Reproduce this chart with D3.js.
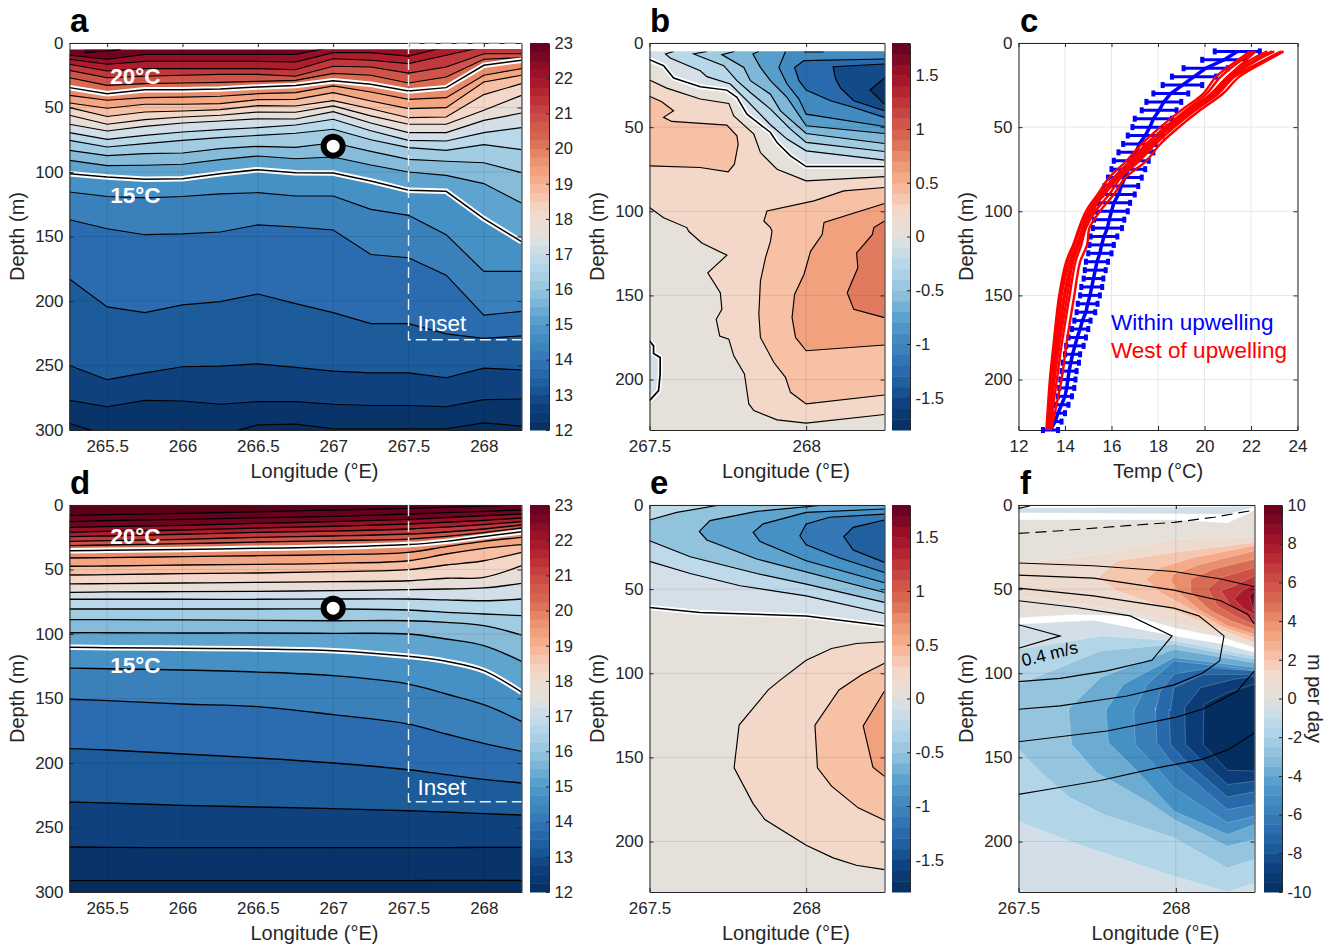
<!DOCTYPE html>
<html>
<head>
<meta charset="utf-8">
<script src="https://cdn.jsdelivr.net/npm/d3@7"></script>
<style>
  html, body { margin: 0; padding: 0; background: #fff; }
  text { font-family: "Liberation Sans", Arial, sans-serif; fill: #262626; }
</style>
</head>
<body>
<div id="svg-container"></div>
<script>
// shared colormap, position 0..1 along each colorbar
const cmap_pos = [0, .07, .114, .16, .205, .25, .295, .34, .386, .43, .477, .5, .523, .568, .614, .66, .705, .75, .795, .84, .886, .93, .977, 1];
const cmap_col = ["#052e60", "#0f4280", "#1c5c9a", "#2b6cb0", "#3a80ba", "#4590c4", "#5fa3cf", "#85bbd9", "#a2cce2", "#b8d8ea", "#d3dfe8", "#e5e0da", "#e7dfd7", "#f3d8c9", "#f7bfa3", "#f4a582", "#e88c6c", "#d96b52", "#cf5449", "#c23a3d", "#af1d2d", "#960f27", "#700320", "#67001f"];

// panel a: isotherm depth (m) along longitude
const lon_a = [265.25, 265.5, 265.75, 266, 266.25, 266.5, 266.75, 267, 267.25, 267.5, 267.75, 268, 268.25];
const levels_a = [22.5, 22, 21.5, 21, 20.5, 20, 19.5, 19, 18.5, 18, 17.5, 17, 16.5, 16, 15.5, 15, 14.5, 14, 13.5, 13, 12.5, 12];
const a_225 = [9.5, 12.6, 8.8, 8.8, 8.8, 8.8, 8.8, 3, 3, 3, 0.5, -1, -1];
const a_220 = [12.6, 16.5, 14.2, 14.2, 14.2, 14.2, 14.7, 7.5, 7.5, 10.3, 3, -1, -1];
const a_215 = [16.5, 21.7, 19.9, 19.9, 19.9, 19.9, 20.7, 12.2, 13.4, 16, 9.5, 3, 1.5];
const a_210 = [21.2, 26.9, 25.8, 25, 24.3, 24.3, 25.8, 18, 18.6, 23.3, 18.6, 8.3, 8.3];
const a_205 = [26.9, 32.8, 31.5, 31, 30.5, 29.7, 29, 23.5, 25, 31, 26.4, 12.6, 11.4];
const a_200 = [34.6, 39.3, 36.2, 36.2, 35.7, 34.1, 33, 29.2, 32, 37.2, 34.6, 17.3, 13.4];
const a_195 = [40.6, 44.4, 42.4, 41.9, 41.3, 39.3, 38.5, 33.3, 38, 43.7, 42.4, 25, 19.9];
const a_190 = [46.5, 50.6, 47.5, 47.5, 47, 43.9, 43.7, 38.5, 45, 50.9, 50.1, 30.2, 25];
const a_185 = [50.1, 57, 53.5, 52.7, 51.7, 48.6, 48.8, 44.7, 51, 57.9, 57.4, 40, 31.5];
const a_180 = [56, 63, 59.4, 57.4, 56, 53.5, 53.7, 48.8, 56.5, 63, 63, 52.2, 40.6];
const a_175 = [63, 68.2, 64.6, 62, 60.5, 58.7, 58.9, 53.2, 62, 69.5, 69.5, 60, 54.3];
const a_170 = [69.5, 74.7, 71.6, 69, 67.2, 65.6, 63.6, 59.1, 68, 75.5, 76, 69.5, 65.6];
const a_165 = [75.5, 80.6, 78, 75.5, 73.4, 71.6, 70, 66.9, 75, 81.1, 83.2, 78.8, 82.7];
const a_160 = [83.2, 87.3, 85.8, 85.3, 81.9, 80.1, 80.9, 77.3, 84, 90.2, 91.7, 92.8, 100.5];
const a_155 = [91, 95, 94.8, 94, 90.4, 87.6, 89.7, 88.4, 94.6, 100, 102.6, 109, 124];
const a_150 = [101.3, 103.9, 105.7, 105.2, 101.3, 98.2, 100.5, 100.8, 107, 114.2, 115, 136.2, 154];
const a_145 = [115.5, 119, 120, 119, 117, 116, 118.6, 118.6, 129, 133.6, 148.6, 177, 177];
const a_140 = [137, 144, 148.6, 148, 146.5, 141, 142.6, 145, 164, 166.5, 180, 211, 208];
const a_135 = [183, 204.6, 209, 203, 200.5, 194.6, 202, 209, 217.5, 217.5, 225.5, 229, 227];
const a_130 = [250, 261, 255.7, 251, 250.5, 248.7, 251.5, 254.4, 255.7, 255.7, 259.5, 252, 253.4];
const a_125 = [277, 282, 277, 277.5, 280, 278, 278, 280, 281, 281, 282, 276.5, 276];
const a_120 = [295, 304, 306, 306, 304, 296, 295.5, 299, 299, 299, 299, 294.5, 297];
const rows_a = [a_225, a_220, a_215, a_210, a_205, a_200, a_195, a_190, a_185, a_180, a_175, a_170, a_165, a_160, a_155, a_150, a_145, a_140, a_135, a_130, a_125, a_120];
const a_patch = [[265.35, 7.5], [265.5, 6.2], [265.59, 5], [265.35, 5]];

// panel d: same isotherms from the model
const lon_d = [265.25, 265.5, 266, 266.5, 267, 267.5, 267.75, 268, 268.25];
const levels_d = [23.5, 23, 22.5, 22, 21.5, 21, 20.5, 20, 19.5, 19, 18.5, 18, 17.5, 17, 16.5, 16, 15.5, 15, 14.5, 14, 13.5, 13, 12.5, 12];
const d_235 = [8, 7.5, 6.5, 5.2, 3.9, 2.6, 1.8, 0.8, -0.2];
const d_230 = [12.9, 12.1, 11.1, 9.9, 8.8, 7, 5.9, 4.9, 3.9];
const d_225 = [17.3, 16.8, 15.8, 14.2, 12.9, 11.1, 9.8, 8.3, 7];
const d_220 = [21.2, 20.4, 19.4, 17.8, 16.5, 14.7, 13.4, 11.9, 10.1];
const d_215 = [24.5, 24, 22.7, 21.2, 20.2, 18.6, 17.1, 15.2, 12.9];
const d_210 = [28.2, 27.6, 26.6, 25.1, 24, 22.5, 20.9, 18.6, 15.5];
const d_205 = [31.5, 31, 30, 28.7, 27.6, 26.4, 24.3, 21.4, 17.8];
const d_200 = [35.4, 35.1, 34.4, 33.6, 32.6, 30.7, 28.2, 24.5, 20.7];
const d_195 = [41.1, 40.8, 40, 39.3, 38.5, 36.7, 32.3, 28.2, 25.1];
const d_190 = [47.5, 47.3, 46.5, 46, 45.2, 43.2, 38, 33.6, 30.7];
const d_185 = [54.3, 54, 53.2, 52.7, 51.7, 50.1, 46.5, 43.2, 36.7];
const d_180 = [61.2, 61, 60.5, 60, 59.4, 58.7, 56.8, 56.1, 47];
const d_175 = [67.7, 67.4, 67.2, 66.9, 66.4, 65.6, 65.1, 64.3, 60.7];
const d_170 = [73.1, 73.1, 73.1, 73.1, 72.9, 72.9, 73.6, 74.2, 72.9];
const d_165 = [80.6, 80.6, 80.6, 80.6, 80.6, 81.4, 83.2, 84.5, 85.8];
const d_160 = [88.9, 88.9, 89.1, 89.4, 89.7, 89.7, 91, 93.5, 100.8];
const d_155 = [99, 99, 99.2, 99.2, 99.5, 100, 103.9, 109, 121.2];
const d_150 = [110.3, 110.6, 111.1, 111.6, 112.9, 117.3, 121.2, 128.4, 145.2];
const d_145 = [126.4, 126.9, 127.9, 129.5, 132.3, 138.8, 146.5, 154.8, 167.7];
const d_140 = [150.6, 151.7, 154.3, 156.3, 162.5, 169.8, 177.5, 184.8, 191];
const d_135 = [188.9, 189.9, 193, 196.1, 200, 205.2, 209, 212.7, 215.5];
const d_130 = [230.2, 231, 232.8, 234.1, 235.4, 237, 238, 239.3, 240.3];
const d_125 = [265.1, 265.4, 265.6, 265.6, 265.6, 265.6, 265.6, 265.4, 265.4];
const d_120 = [291.2, 291.2, 291.2, 291.2, 291.2, 291.2, 291, 291, 291];
const rows_d = [d_235, d_230, d_225, d_220, d_215, d_210, d_205, d_200, d_195, d_190, d_185, d_180, d_175, d_170, d_165, d_160, d_155, d_150, d_145, d_140, d_135, d_130, d_125, d_120];

// panel b: temperature anomaly contours, [lon, depth]
const b_zero = [[267.5, 9.9], [267.545, 13.5], [267.577, 20.8], [267.662, 26], [267.747, 28], [267.779, 32.3], [267.811, 42.3], [267.886, 53.2], [267.907, 59.1], [267.95, 67.1], [268, 73.4], [268.25, 73.4]];
const b_n_top = [[267.5, 22], [267.555, 26.8], [267.662, 33.3], [267.753, 35.9], [267.769, 43.3], [267.833, 54.2], [267.854, 65.1], [267.907, 75], [268, 81.9], [268.25, 79.4]];
const b_n_low = [[267.5, 97.8], [267.545, 103.8], [267.619, 109.7], [267.625, 111.9], [267.667, 118.8], [267.747, 126.1], [267.686, 136.6], [267.726, 148.4], [267.731, 158.3], [267.713, 164.2], [267.724, 174.1], [267.753, 176], [267.769, 185.9], [267.803, 196.7], [267.817, 214.5], [267.833, 218.4], [267.907, 224], [268, 225.9], [268.25, 220.8]];
const b_west = [[267.5, 31.7], [267.539, 34.9], [267.577, 40.3], [267.545, 44.2], [267.571, 46.6], [267.747, 48.8], [267.779, 55.2], [267.783, 60.1], [267.771, 72], [267.751, 76.6], [267.662, 74], [267.5, 73]];
const b_warm1 = [[268.25, 85.9], [268.12, 87.9], [268.025, 93.8], [267.875, 99.8], [267.865, 105.8], [267.886, 109.7], [267.891, 111.9], [267.886, 117.9], [267.87, 127.7], [267.854, 141.5], [267.849, 161.2], [267.854, 175], [267.897, 189.9], [267.934, 198.7], [267.95, 207.6], [268, 214.5], [268.25, 209.2]];
const b_warm2 = [[268.25, 95.4], [268.057, 106.7], [268.051, 113.9], [268.014, 123.8], [267.993, 137.6], [267.963, 149.4], [267.955, 163.2], [267.966, 175], [268, 182.9], [268.25, 179.5]];
const b_warm3 = [[268.25, 105.8], [268.216, 109.7], [268.211, 113.9], [268.161, 124.8], [268.165, 133.6], [268.131, 148.4], [268.152, 158.3], [268.25, 163.2]];
const b_cold1 = [[267.577, 5], [267.551, 6.5], [267.566, 8.9], [267.662, 16.5], [267.683, 20], [267.758, 24.4], [267.811, 34.3], [267.886, 48.6], [267.939, 57.1], [268, 64.1], [268.25, 69.6]];
const b_cold2 = [[267.683, 5], [267.641, 6.5], [267.737, 13.5], [267.779, 22.4], [267.822, 29.4], [267.886, 39.3], [267.95, 51.2], [268, 59.1], [268.25, 64.5]];
const b_cold3 = [[267.771, 5], [267.731, 6.9], [267.801, 14.5], [267.822, 22.4], [267.886, 30.4], [267.918, 40.3], [268, 53.8], [268.25, 59.7]];
const b_cold4 = [[267.849, 5], [267.83, 6.5], [267.854, 14.5], [267.886, 22.4], [267.939, 32.3], [268, 49.2], [268.25, 53.8]];
const b_cold5 = [[267.934, 5], [267.913, 14.5], [267.939, 24.4], [267.977, 33.3], [268, 42.3], [268.25, 49.6]];
const b_cold6 = [[268.25, 9.5], [267.993, 10.5], [267.963, 14.5], [267.977, 22.4], [268, 28], [268.078, 34.3], [268.152, 38.3], [268.25, 44.2]];
const b_cold7 = [[268.25, 12.5], [268.086, 14.1], [268.094, 21.4], [268.11, 26.8], [268.152, 34.3], [268.25, 40.3]];
const b_cold8 = [[268.25, 20.8], [268.204, 28], [268.25, 36.3]];
const b_blob = [[267.5, 177], [267.513, 180], [267.513, 184.5], [267.534, 186.9], [267.534, 196.7], [267.529, 206.6], [267.5, 212.5]];
const b_top_bit = [[267.993, 5.3], [268.056, 5.3]];

// panel e
const e_zero = [[267.5, 60.9], [267.661, 63.9], [268, 65.9], [268.25, 71.8]];
const e_c1 = [[267.5, 33.5], [267.63, 40.7], [267.789, 48], [268, 54], [268.25, 64.5]];
const e_c2_low = [[267.5, 21.2], [267.63, 30.8], [267.842, 40.7], [268, 47], [268.25, 57.9]];
const e_c2_top = [[267.725, 0], [267.587, 4.4], [267.5, 8.9]];
const e_c3 = [[268.25, 52], [267.842, 32.1], [267.683, 20.8], [267.659, 15.7], [267.693, 9.3], [267.842, 3.8], [268.059, 0]];
const e_c4 = [[268.25, 2.4], [268, 4.4], [267.863, 11.2], [267.831, 16.3], [267.852, 21.6], [268, 33.1], [268.25, 46.2]];
const e_c5 = [[268.25, 5.4], [268.075, 7.3], [268, 11.3], [267.98, 18.3], [268, 23.6], [268.107, 31.5], [268.25, 40.1]];
const e_c6 = [[268.25, 8.9], [268.15, 13.3], [268.12, 18.8], [268.15, 26.8], [268.25, 34.1]];
const e_w1 = [[268.25, 81.3], [268.16, 82.3], [268.081, 85.3], [268, 92.3], [267.916, 104.2], [267.879, 109.9], [267.786, 130.8], [267.77, 156.2], [267.831, 177.6], [267.868, 186.9], [268, 202.2], [268.086, 209.7], [268.16, 214.1], [268.25, 216.7]];
const e_w2 = [[268.25, 94], [268.176, 101], [268.105, 109.9], [268.028, 130.8], [268.036, 156.2], [268.081, 167.1], [268.166, 180], [268.25, 187.3]];
const e_w3 = [[268.25, 110.5], [268.182, 131.3], [268.213, 155.8], [268.25, 161.3]];

// panel f: vertical velocity bands (value in m per day) and speed contours
const f_top_strip = [[267.5, 2], [268.25, 1], [268.164, 5.4], [267.994, 5], [267.5, 4.4]];
const f_neutral = [[267.5, 8.9], [267.994, 8.9], [268.164, 10.9], [268.25, 3.4], [268.25, 84.7], [268.153, 78.8], [267.994, 72.8], [267.866, 65.9], [267.685, 64.9], [267.5, 66.9]];
const f_p1 = [[267.5, 34.7], [267.76, 29.2], [267.994, 20.2], [268.25, 18.8], [268.25, 83.7], [268.153, 77.8], [267.994, 69.8], [267.845, 62.9], [267.5, 54]];
const f_p2 = [[268.25, 22.2], [267.994, 28.2], [267.813, 33.1], [267.754, 43.1], [267.813, 51], [267.994, 62.9], [268.153, 74.8], [268.25, 81.7]];
const f_p3 = [[268.25, 24.2], [268.057, 31.2], [267.951, 37.1], [267.906, 44], [267.951, 52], [268.057, 62.9], [268.153, 72.8], [268.25, 78.8]];
const f_p4 = [[268.25, 27.2], [268.079, 35.1], [267.994, 41.1], [267.983, 45], [268.015, 53], [268.079, 62.9], [268.164, 71.8], [268.25, 76.8]];
const f_p5 = [[268.25, 32.1], [268.121, 38.1], [268.047, 44], [268.047, 52], [268.111, 62.9], [268.174, 68.8], [268.25, 73.8]];
const f_p6 = [[268.25, 37.1], [268.143, 43.1], [268.102, 50], [268.132, 59.9], [268.196, 66.9], [268.25, 71.2]];
const f_p7 = [[268.25, 42.1], [268.185, 48], [268.143, 51], [268.174, 59.9], [268.217, 64.9], [268.25, 68.8]];
const f_p8 = [[268.25, 47], [268.21, 51], [268.185, 56], [268.217, 61.9], [268.25, 64.9]];
const f_p9 = [[268.25, 51], [268.234, 54], [268.247, 62.9]];
const f_n0 = [[267.5, 70.8], [267.738, 68.5], [267.994, 77.8], [268.153, 82.7], [268.25, 87.7], [268.25, 230], [267.5, 230]];
const f_n1 = [[267.5, 85.7], [267.77, 77.8], [267.994, 80.8], [268.25, 89.7], [268.25, 224.6], [268.164, 230], [267.994, 220.6], [267.685, 201.4], [267.5, 187.9]];
const f_n2 = [[267.5, 106.5], [267.632, 96.6], [267.76, 86.7], [267.994, 82.7], [268.25, 91.7], [268.25, 210.7], [268.164, 215.7], [267.994, 197.8], [267.77, 183.9], [267.664, 174], [267.579, 160.1], [267.5, 145.2]];
const f_n3 = [[267.653, 122.4], [267.76, 102.6], [267.845, 96.6], [267.994, 85.7], [268.25, 93.7], [268.25, 198.8], [268.164, 202.8], [267.994, 186.9], [267.909, 176], [267.749, 159.1], [267.669, 142.3], [267.659, 121.4]];
const f_n4 = [[267.776, 122.4], [267.834, 106.5], [267.994, 90.7], [268.25, 96.6], [268.25, 189.9], [268.164, 195.8], [267.994, 182], [267.877, 158.1], [267.786, 141.3], [267.778, 121.4]];
const f_n5 = [[267.866, 122.4], [267.909, 106.5], [267.994, 92.7], [268.25, 98], [268.25, 184.9], [268.164, 188.9], [267.994, 168.1], [267.94, 156.2], [267.871, 142.3], [267.866, 121.4]];
const f_n6 = [[267.935, 122.4], [267.951, 110.5], [267.994, 100.6], [268.111, 96.6], [268.25, 98.6], [268.25, 178], [268.164, 181], [267.983, 152.2], [267.94, 141.3], [267.935, 120.4]];
const f_n7 = [[267.983, 122.4], [267.994, 108.5], [268.089, 100.6], [268.25, 100.6], [268.25, 170.4], [268.164, 173.6], [268.026, 151.2], [267.983, 142.3], [267.978, 121.4]];
const f_n8 = [[268.028, 120.4], [268.079, 108.5], [268.185, 103.6], [268.25, 101.6], [268.25, 164.1], [268.164, 166.1], [268.084, 152.2], [268.031, 142.3]];
const f_n9 = [[268.089, 118.5], [268.164, 111.5], [268.25, 106.5], [268.25, 158.1], [268.164, 157.7], [268.087, 142.3]];
const f_dash = [[267.5, 16.9], [267.632, 15.3], [267.845, 12.3], [267.994, 10.3], [268.121, 7.3], [268.25, 3]];
const f_l0 = [[267.5, 2], [267.536, 0.6]];
const f_l1 = [[267.5, 34.5], [267.738, 36.1], [267.994, 39.5], [268.143, 44], [268.25, 48.6]];
const f_l2 = [[267.5, 41.7], [267.738, 43.5], [267.994, 50.6], [268.143, 56.9], [268.228, 64.9], [268.25, 70.8]];
const f_l3 = [[267.5, 49.4], [267.738, 54], [267.994, 61.3], [268.073, 65.9], [268.153, 77.8], [268.139, 92.7], [268.084, 100], [267.994, 106.9], [267.845, 113.5], [267.632, 119.4], [267.5, 121.4]];
const f_l4 = [[267.5, 56.9], [267.685, 60.9], [267.855, 65.9], [267.988, 77.8], [267.924, 92.3], [267.781, 98.6], [267.632, 103], [267.5, 105]];
const f_l5 = [[267.5, 71.2], [267.632, 77.8], [267.5, 85.1]];
const f_l6 = [[267.5, 140.7], [267.781, 134.3], [267.994, 126.4], [268.084, 121.4], [268.137, 116.5], [268.196, 110.5], [268.25, 98.6]];
const f_l7 = [[267.5, 172], [267.611, 168.5], [267.76, 163.7], [267.94, 156.2], [268.084, 151.2], [268.169, 145.2], [268.25, 135.3]];

// panel c: profiles
const c_bar_depth = [5, 10, 15, 20, 25, 30, 35, 40, 45, 50, 55, 60, 65, 70, 75, 80, 85, 90, 95, 100, 105, 110, 115, 120, 125, 130, 135, 140, 145, 150, 155, 160, 165, 170, 175, 180, 185, 190, 195, 200, 205, 210, 215, 220, 225, 230];
const c_bar_low = [20.44, 19.9, 19.1, 18.6, 18.2, 17.8, 17.5, 17.3, 17, 16.9, 16.7, 16.5, 16.3, 16.1, 16, 15.85, 15.7, 15.6, 15.4, 15.3, 15.25, 15.2, 15.1, 15.05, 15, 14.9, 14.85, 14.8, 14.7, 14.65, 14.55, 14.5, 14.4, 14.3, 14.15, 14.05, 14, 13.9, 13.85, 13.8, 13.75, 13.7, 13.55, 13.4, 13.3, 13.05];
const c_bar_high = [22.38, 21.8, 21, 20.5, 19.9, 19.3, 19, 18.8, 18.6, 18.4, 18.2, 17.9, 17.8, 17.6, 17.45, 17.3, 17.15, 17, 16.8, 16.7, 16.55, 16.45, 16.25, 16.1, 16, 15.85, 15.75, 15.65, 15.6, 15.5, 15.4, 15.3, 15.1, 15, 14.9, 14.8, 14.65, 14.6, 14.5, 14.45, 14.4, 14.3, 14.15, 14, 13.85, 13.7];
const c_red_depth = [5, 10, 20, 30, 40, 50, 60, 70, 80, 90, 100, 110, 120, 130, 150, 180, 200, 230];
const c_red1 = [21.95, 21.45, 20.5, 19.95, 19, 18.1, 17.3, 16.65, 15.9, 15.4, 14.9, 14.6, 14.35, 14.05, 13.75, 13.5, 13.35, 13.2];
const c_red2 = [22.1, 21.6, 20.7, 20.1, 19.2, 18.3, 17.5, 16.8, 16.1, 15.5, 15, 14.65, 14.4, 14.1, 13.8, 13.55, 13.4, 13.25];
const c_red3 = [22.2, 21.8, 21, 20.3, 19.3, 18.4, 17.7, 17, 16.2, 15.6, 15.05, 14.75, 14.5, 14.2, 13.85, 13.6, 13.45, 13.25];
const c_red4 = [22.9, 22.2, 21.1, 20.4, 19.4, 18.5, 17.8, 17.1, 16.3, 15.7, 15.1, 14.8, 14.55, 14.3, 14, 13.7, 13.5, 13.3];
const c_red5 = [22.7, 22, 21, 20.3, 19.5, 18.6, 17.6, 16.9, 16.15, 15.5, 15.15, 14.85, 14.6, 14.35, 14.1, 13.75, 13.55, 13.3];
const c_red6 = [23.3, 22.6, 21.3, 20.6, 19.6, 18.7, 17.9, 17.2, 16.4, 15.9, 15.3, 14.9, 14.7, 14.45, 14.2, 13.85, 13.65, 13.35];
const c_red7 = [23.4, 22.75, 21.5, 20.8, 19.8, 18.9, 18.1, 17.5, 16.6, 16.1, 15.5, 15.05, 14.95, 14.65, 14.4, 14.05, 13.85, 13.4];
const c_red8 = [23, 22.3, 21.2, 20.5, 19.5, 18.5, 17.7, 17, 16.25, 15.6, 15.2, 14.8, 14.6, 14.3, 13.95, 13.65, 13.5, 13.3];
const c_reds = [c_red1, c_red2, c_red3, c_red4, c_red5, c_red6, c_red7, c_red8];

// ticks
const wide_lon_ticks = [265.5, 266, 266.5, 267, 267.5, 268];
const wide_depth_ticks = [0, 50, 100, 150, 200, 250, 300];
const inset_lon_ticks = [267.5, 268];
const inset_depth_ticks = [0, 50, 100, 150, 200];
const temp_ticks = [12, 14, 16, 18, 20, 22, 24];
const cb_temp_ticks = [12, 13, 14, 15, 16, 17, 18, 19, 20, 21, 22, 23];
const cb_anom_ticks = [-1.5, -1, -0.5, 0, 0.5, 1, 1.5];
const cb_w_ticks = [-10, -8, -6, -4, -2, 0, 2, 4, 6, 8, 10];

const row1 = [43, 430], row2 = [505, 892],
      col_wide = [69.5, 521.5], col_mid = [649.5, 884.5], col_c = [1018.5, 1297.5], col_f = [1018.5, 1254.5],
      ink = "#262626", tick_font = 17, label_font = 20, lon_shift = 19;

const svg = d3.select("#svg-container").append("svg")
    .attr("width", 1336)
    .attr("height", 947)
    .style("display", "block");

const cmap = d3.scaleLinear().domain(cmap_pos).range(cmap_col).clamp(true);
const temp_color = function(v) { return cmap((v - 12) / 11); };
const anom_color = function(v) { return cmap((v + 1.8) / 3.6); };
const w_color = function(v) { return cmap((v + 10) / 20); };

let clip_count = 0;

function make_panel(col, row, x_dom, y_dom, top_depth) {
    const x = d3.scaleLinear(x_dom, col), y = d3.scaleLinear(y_dom, row);
    const id = "clip" + (clip_count++);
    svg.append("clipPath").attr("id", id).append("rect")
        .attr("x", col[0]).attr("width", col[1] - col[0])
        .attr("y", y(top_depth)).attr("height", row[1] - y(top_depth));
    const g = svg.append("g").attr("clip-path", "url(#" + id + ")");
    const poly = d3.line().x(function(d) { return x(d[0]); }).y(function(d) { return y(d[1]); });
    return { x: x, y: y, g: g, poly: poly, col: col, row: row };
}

function fill_poly(p, pts, color) {
    p.g.append("path").attr("d", p.poly(pts) + "Z").attr("fill", color).attr("stroke", color).attr("stroke-width", 0.4);
}

function line_poly(p, pts, w, halo) {
    if (halo) {
        p.g.append("path").attr("d", p.poly(pts)).attr("fill", "none").attr("stroke", "#fff").attr("stroke-width", halo);
    }
    p.g.append("path").attr("d", p.poly(pts)).attr("fill", "none").attr("stroke", "#000").attr("stroke-width", w || 1.15);
}

function draw_frame(p, x_ticks, y_ticks, x_title, y_title, title_x, grid_color, title_shift) {
    const grid = svg.append("g");
    grid.selectAll(".gx").data(x_ticks).join("line")
        .attr("x1", p.x).attr("x2", p.x).attr("y1", p.row[0]).attr("y2", p.row[1])
        .attr("stroke", grid_color);
    grid.selectAll(".gy").data(y_ticks).join("line")
        .attr("x1", p.col[0]).attr("x2", p.col[1]).attr("y1", p.y).attr("y2", p.y)
        .attr("stroke", grid_color);

    const style_axis = function(g) {
        g.selectAll("path").attr("stroke", ink);
        g.selectAll("line").attr("stroke", ink);
        g.selectAll("text").attr("font-size", tick_font).attr("fill", ink).style("font-family", "Liberation Sans");
    };
    svg.append("g").attr("transform", "translate(0," + p.row[1] + ")")
        .call(d3.axisBottom(p.x).tickValues(x_ticks).tickSize(-4).tickSizeOuter(0).tickPadding(10).tickFormat(String))
        .call(style_axis);
    svg.append("g").attr("transform", "translate(0," + p.row[0] + ")")
        .call(d3.axisTop(p.x).tickValues(x_ticks).tickSize(-4).tickSizeOuter(0).tickFormat(""))
        .call(style_axis);
    svg.append("g").attr("transform", "translate(" + p.col[0] + ",0)")
        .call(d3.axisLeft(p.y).tickValues(y_ticks).tickSize(-4).tickSizeOuter(0).tickPadding(6).tickFormat(String))
        .call(style_axis);
    svg.append("g").attr("transform", "translate(" + p.col[1] + ",0)")
        .call(d3.axisRight(p.y).tickValues(y_ticks).tickSize(-4).tickSizeOuter(0).tickFormat(""))
        .call(style_axis);

    svg.append("text").attr("x", (p.col[0] + p.col[1]) / 2 + title_shift).attr("y", p.row[1] + 48)
        .attr("text-anchor", "middle").attr("font-size", label_font).text(x_title);
    svg.append("text").attr("transform", "translate(" + title_x + "," + (p.row[0] + p.row[1]) / 2 + ") rotate(-90)")
        .attr("text-anchor", "middle").attr("font-size", label_font).text(y_title);
}

function draw_colorbar(col, row, dom, steps, color, ticks) {
    const y = d3.scaleLinear(dom, [row[1], row[0]]);
    const step = (dom[1] - dom[0]) / steps;
    svg.append("g").selectAll("rect").data(d3.range(steps)).join("rect")
        .attr("x", col[0]).attr("width", col[1] - col[0])
        .attr("y", function(i) { return y(dom[0] + (i + 1) * step); })
        .attr("height", (row[1] - row[0]) / steps + 0.5)
        .attr("fill", function(i) { return color(dom[0] + (i + 0.5) * step); });
    svg.append("g").attr("transform", "translate(" + col[1] + ",0)")
        .call(d3.axisRight(y).tickValues(ticks).tickSize(-3).tickSizeOuter(0).tickPadding(5.5).tickFormat(String))
        .call(function(g) {
            g.selectAll("path").attr("stroke", ink);
            g.selectAll("line").attr("stroke", ink);
            g.selectAll("text").attr("font-size", 16.5).attr("fill", ink).style("font-family", "Liberation Sans");
        });
}

function panel_letter(label, x, y) {
    svg.append("text").attr("x", x).attr("y", y).attr("font-size", 33).attr("font-weight", "bold")
        .style("fill", "#000").text(label);
}

// isotherm sections a and d
function draw_section(col, row, lon, levels, rows, top_depth, top_color, curve, patch, line_w) {
    const p = make_panel(col, row, [265.25, 268.25], [0, 300], top_depth);
    p.g.append("rect").attr("x", col[0]).attr("y", row[0]).attr("width", col[1] - col[0]).attr("height", row[1] - row[0])
        .attr("fill", top_color);
    const area = d3.area().curve(curve)
        .x(function(d, i) { return p.x(lon[i]); })
        .y0(row[1])
        .y1(function(d) { return p.y(d); });
    const contour = d3.line().curve(curve)
        .x(function(d, i) { return p.x(lon[i]); })
        .y(function(d) { return p.y(d); });
    rows.forEach(function(r, k) {
        p.g.append("path").attr("d", area(r)).attr("fill", temp_color(levels[k] - 0.25));
    });
    if (patch) {
        fill_poly(p, patch, "#5c001a");
        line_poly(p, patch.slice(0, 3), 1.15);
    }
    rows.forEach(function(r, k) {
        const special = levels[k] === 20 || levels[k] === 15;
        if (special) {
            p.g.append("path").attr("d", contour(r)).attr("fill", "none").attr("stroke", "#fff").attr("stroke-width", 5.5);
        }
        p.g.append("path").attr("d", contour(r)).attr("fill", "none").attr("stroke", "#000").attr("stroke-width", special ? 1.5 : line_w);
    });
    return p;
}

function section_notes(p, warm_depth, cool_depth, inset_depth) {
    svg.append("path")
        .attr("d", d3.line()([[p.x(267.5), p.y(0)], [p.x(267.5), p.y(230)], [p.x(268.25), p.y(230)]]))
        .attr("fill", "none").attr("stroke", "#f0f0f0").attr("stroke-width", 1.4).attr("stroke-dasharray", "11,5");
    svg.append("circle").attr("cx", p.x(267)).attr("cy", p.y(80)).attr("r", 9.5)
        .attr("fill", "#fff").attr("stroke", "#000").attr("stroke-width", 6);
    [["20°C", warm_depth], ["15°C", cool_depth]].forEach(function(d) {
        svg.append("text").attr("x", p.x(265.52)).attr("y", p.y(d[1]))
            .attr("font-size", 22.5).attr("font-weight", "bold").style("fill", "#fff").text(d[0]);
    });
    svg.append("text").attr("x", p.x(267.56)).attr("y", p.y(inset_depth)).attr("font-size", 22.5).style("fill", "#fff").text("Inset");
}

const pa = draw_section(col_wide, row1, lon_a, levels_a, rows_a, 5, temp_color(22.75), d3.curveLinear, a_patch, 1.15);
draw_frame(pa, wide_lon_ticks, wide_depth_ticks, "Longitude (°E)", "Depth (m)", 24, "rgba(0,0,0,0.09)", lon_shift);
section_notes(pa, 32, 124, 223);
svg.append("path")
    .attr("d", d3.line()([[pa.x(267.5), pa.y(0)], [pa.x(268.25), pa.y(0)]]))
    .attr("fill", "none").attr("stroke", "#c8c8c8").attr("stroke-width", 1.4).attr("stroke-dasharray", "11,5");
draw_colorbar([530, 549], row1, [12, 23], 44, temp_color, cb_temp_ticks);

const pd = draw_section(col_wide, row2, lon_d, levels_d, rows_d, 0, "#5c001a", d3.curveCatmullRom, null, 1.35);
draw_frame(pd, wide_lon_ticks, wide_depth_ticks, "Longitude (°E)", "Depth (m)", 24, "rgba(0,0,0,0.09)", lon_shift);
section_notes(pd, 30, 130, 225);
draw_colorbar([530, 549], row2, [12, 23], 44, temp_color, cb_temp_ticks);

// panel b
const inset_x = [267.5, 268.25], inset_y = [0, 230];
const pb = make_panel(col_mid, row1, inset_x, inset_y, 5);
const right_top = [[268.25, 5], [267.5, 5]], right_bottom = [[268.25, 5]];
pb.g.append("rect").attr("x", col_mid[0]).attr("y", row1[0]).attr("width", 235).attr("height", 387).attr("fill", anom_color(0));
fill_poly(pb, b_n_top.concat(b_n_low.slice().reverse()), anom_color(0.25));
fill_poly(pb, b_west, anom_color(0.4));
fill_poly(pb, b_warm1, anom_color(0.4));
fill_poly(pb, b_warm2, anom_color(0.6));
fill_poly(pb, b_warm3, anom_color(0.82));
fill_poly(pb, b_zero.concat(right_top), anom_color(-0.08));
fill_poly(pb, b_cold1.concat(right_bottom), anom_color(-0.25));
fill_poly(pb, b_cold2.concat(right_bottom), anom_color(-0.42));
fill_poly(pb, b_cold3.concat(right_bottom), anom_color(-0.6));
fill_poly(pb, b_cold4.concat(right_bottom), anom_color(-0.78));
fill_poly(pb, b_cold5.concat(right_bottom), anom_color(-0.95));
fill_poly(pb, b_cold6, anom_color(-1.25));
fill_poly(pb, b_cold7, anom_color(-1.5));
fill_poly(pb, b_cold8, anom_color(-1.72));
fill_poly(pb, b_blob, anom_color(-0.08));
[b_n_top, b_n_low, b_west, b_warm1, b_warm2, b_warm3, b_cold1, b_cold2, b_cold3, b_cold4, b_cold5, b_cold6, b_cold7, b_cold8, b_top_bit].forEach(function(c) {
    line_poly(pb, c);
});
line_poly(pb, b_zero, 1.5, 5);
line_poly(pb, b_blob, 1.7, 5);
draw_frame(pb, inset_lon_ticks, inset_depth_ticks, "Longitude (°E)", "Depth (m)", 604, "rgba(0,0,0,0.09)", lon_shift);
draw_colorbar([892, 910], row1, [-1.8, 1.8], 36, anom_color, cb_anom_ticks);

// panel e
const pe = make_panel(col_mid, row2, inset_x, inset_y, 0);
pe.g.append("rect").attr("x", col_mid[0]).attr("y", row2[0]).attr("width", 235).attr("height", 387).attr("fill", anom_color(0));
fill_poly(pe, e_w1, anom_color(0.25));
fill_poly(pe, e_w2, anom_color(0.4));
fill_poly(pe, e_w3, anom_color(0.6));
fill_poly(pe, e_zero.concat([[268.25, 0], [267.5, 0]]), anom_color(-0.08));
fill_poly(pe, e_c1.concat([[268.25, 0], [267.5, 0]]), anom_color(-0.22));
fill_poly(pe, e_c2_low.concat([[268.25, 0]], e_c2_top), anom_color(-0.5));
fill_poly(pe, e_c3.concat([[268.25, 0]]), anom_color(-0.74));
fill_poly(pe, e_c4, anom_color(-0.9));
fill_poly(pe, e_c5, anom_color(-1.13));
fill_poly(pe, e_c6, anom_color(-1.35));
[e_c1, e_c2_low, e_c2_top, e_c3, e_c4, e_c5, e_c6, e_w1, e_w2, e_w3].forEach(function(c) {
    line_poly(pe, c);
});
line_poly(pe, e_zero, 1.5, 5);
draw_frame(pe, inset_lon_ticks, inset_depth_ticks, "Longitude (°E)", "Depth (m)", 604, "rgba(0,0,0,0.09)", lon_shift);
draw_colorbar([892, 910], row2, [-1.8, 1.8], 36, anom_color, cb_anom_ticks);

// panel f
const pf = make_panel(col_f, row2, inset_x, inset_y, 0);
fill_poly(pf, f_top_strip, w_color(-0.5));
fill_poly(pf, f_neutral, w_color(0));
[[f_p1, 1], [f_p2, 2], [f_p3, 3], [f_p4, 4], [f_p5, 5], [f_p6, 6], [f_p7, 7], [f_p8, 8], [f_p9, 9.5],
 [f_n0, -0.5], [f_n1, -1.6], [f_n2, -2.7], [f_n3, -3.8], [f_n4, -5], [f_n5, -6], [f_n6, -7], [f_n7, -8], [f_n8, -9], [f_n9, -10]].forEach(function(b) {
    pf.g.append("path").attr("d", pf.poly(b[0]) + "Z").attr("fill", w_color(b[1]))
        .attr("stroke", "rgba(255,255,255,0.35)").attr("stroke-width", 0.6);
});
[f_l0, f_l1, f_l2, f_l3, f_l4, f_l5, f_l6, f_l7].forEach(function(c) { line_poly(pf, c); });
pf.g.append("path").attr("d", pf.poly(f_dash)).attr("fill", "none").attr("stroke", "#000").attr("stroke-width", 1.15).attr("stroke-dasharray", "11,6");
draw_frame(pf, inset_lon_ticks, inset_depth_ticks, "Longitude (°E)", "Depth (m)", 973, "rgba(0,0,0,0.09)", lon_shift);
svg.append("text").attr("transform", "translate(" + pf.x(267.515) + "," + pf.y(96) + ") rotate(-14)")
    .attr("font-size", 17.5).style("fill", "#000").text("0.4 m/s");
draw_colorbar([1264, 1282], row2, [-10, 10], 40, w_color, cb_w_ticks);
svg.append("text").attr("transform", "translate(1308," + (row2[0] + row2[1]) / 2 + ") rotate(90)")
    .attr("text-anchor", "middle").attr("font-size", label_font).text("m per day");

// panel c
const pc = make_panel(col_c, row1, [12, 24], [0, 230], 0);
draw_frame(pc, temp_ticks, inset_depth_ticks, "Temp (°C)", "Depth (m)", 973, "#e8e8e8", 0);
const c_mean = c_bar_low.map(function(d, i) { return (d + c_bar_high[i]) / 2; });
const c_g = svg.append("g");
const cap = 3;
c_g.selectAll(".bar").data(c_bar_depth).join("line")
    .attr("x1", function(d, i) { return pc.x(c_bar_low[i]); })
    .attr("x2", function(d, i) { return pc.x(c_bar_high[i]); })
    .attr("y1", pc.y).attr("y2", pc.y)
    .attr("stroke", "#0000ff").attr("stroke-width", 3);
[c_bar_low, c_bar_high].forEach(function(arr) {
    c_g.append("g").selectAll("rect").data(c_bar_depth).join("rect")
        .attr("x", function(d, i) { return pc.x(arr[i]) - 2; })
        .attr("y", function(d) { return pc.y(d) - cap; })
        .attr("width", 4).attr("height", cap * 2)
        .attr("fill", "#0000ff");
});
c_g.append("path")
    .attr("d", d3.line().x(function(d, i) { return pc.x(c_mean[i]); }).y(function(d) { return pc.y(d); })(c_bar_depth))
    .attr("fill", "none").attr("stroke", "#0000ff").attr("stroke-width", 3.5);
const red_line = d3.line().curve(d3.curveCatmullRom)
    .x(function(d) { return pc.x(d); })
    .y(function(d, i) { return pc.y(c_red_depth[i]); });
c_g.append("g").selectAll("path").data(c_reds).join("path")
    .attr("d", red_line).attr("fill", "none").attr("stroke", "#ff0000").attr("stroke-width", 2.4);
svg.append("text").attr("x", 1111).attr("y", 330).attr("font-size", 22.5).style("fill", "#0000ff").text("Within upwelling");
svg.append("text").attr("x", 1111).attr("y", 358).attr("font-size", 22.5).style("fill", "#ff0000").text("West of upwelling");

panel_letter("a", 70, 32);
panel_letter("b", 650, 32);
panel_letter("c", 1020, 32);
panel_letter("d", 70, 494);
panel_letter("e", 650, 494);
panel_letter("f", 1020, 494);
</script>
</body>
</html>
